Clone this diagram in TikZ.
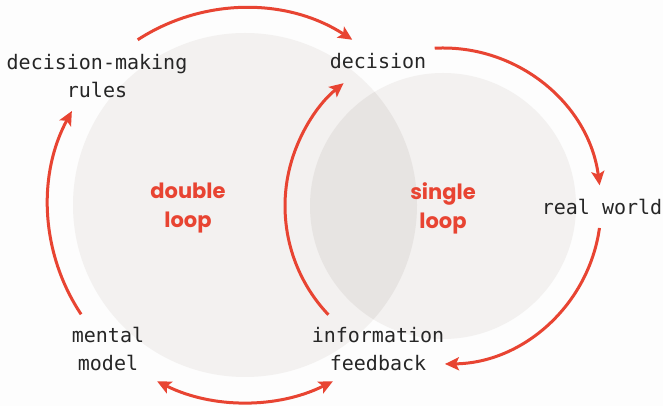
\documentclass[tikz,border=0pt]{standalone}
\usepackage{fontspec}
\setmonofont{DejaVu Sans Mono}
\newfontfamily\loopfont{Poppins}
\usetikzlibrary{arrows.meta}
\definecolor{loopred}{RGB}{232,68,50}
\definecolor{circfill}{RGB}{243,241,240}
\definecolor{lensfill}{RGB}{231,228,226}
\definecolor{bgfill}{RGB}{253,253,253}
\tikzset{
  lbl/.style={font=\ttfamily\fontsize{20}{28}\selectfont, align=center, inner sep=0pt, text=black!85},
  looplbl/.style={font=\loopfont\bfseries\fontsize{21}{29}\selectfont, align=center, inner sep=0pt, text=loopred},
  flow/.style={draw=loopred, line width=3pt, -{Stealth[length=14pt,width=13pt,inset=3pt]}},
  flowboth/.style={draw=loopred, line width=3pt, {Stealth[length=14pt,width=13pt,inset=3pt]}-{Stealth[length=14pt,width=13pt,inset=3pt]}}
}
\begin{document}
\begin{tikzpicture}[x=1pt,y=1pt]
\fill[bgfill] (0,0) rectangle (663,406);
\useasboundingbox (0,0) rectangle (663,406);
\coordinate (L) at (245,201);
\coordinate (R) at (443,200);
% circles
\fill[circfill] (L) circle[radius=172pt];
\fill[circfill] (R) circle[radius=133pt];
\begin{scope}
  \clip (L) circle[radius=172pt];
  \fill[lensfill] (R) circle[radius=133pt];
\end{scope}
% labels
\node[lbl] (dmr) at (97,330) {decision-making\\rules};
\node[lbl] (dec) at (378,345) {decision};
\node[lbl] (rw) at (602,199) {real world};
\node[lbl] (mm) at (108,57) {mental\\model};
\node[lbl] (inf) at (378,57) {information\\feedback};
\node[looplbl] (dl) at (188,198) {double\\loop};
\node[looplbl] (sl) at (443,198) {single\\loop};
% double-loop arrows
\draw[flow] ([shift={(123:197pt)}]L) arc[start angle=123, end angle=57, radius=197pt];
\draw[flow] ([shift={(213.7:197pt)}]L) arc[start angle=213.7, end angle=151.5, radius=197pt];
\draw[flowboth] ([shift={(243.5:197pt)}]L) arc[start angle=243.5, end angle=296.5, radius=197pt];
% single-loop arrows
\draw[flow] ([shift={(223.5:158pt)}]R) arc[start angle=223.5, end angle=129, radius=158pt];
\draw[flow] ([shift={(93:158pt)}]R) arc[start angle=93, end angle=7.5, radius=158pt];
\draw[flow] ([shift={(-8:158pt)}]R) arc[start angle=-8, end angle=-89.3, radius=158pt];
\end{tikzpicture}
\end{document}
